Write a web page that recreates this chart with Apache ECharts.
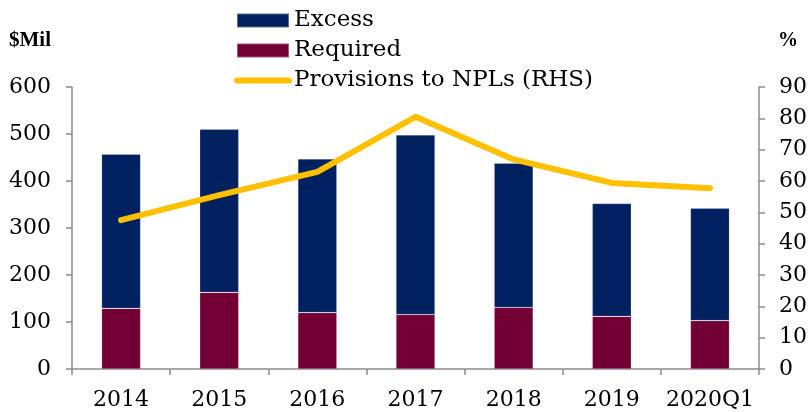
<!DOCTYPE html>
<html>
<head>
<meta charset="utf-8">
<script src="https://cdn.jsdelivr.net/npm/echarts@6/dist/echarts.min.js"></script>
<style>
html,body{margin:0;padding:0;background:#fff;}
#chart{width:811px;height:412px;}
</style>
</head>
<body>
<div id="chart"></div>
<script>
var categories = ['2014', '2015', '2016', '2017', '2018', '2019', '2020Q1'];
var required = [129, 163, 120, 116, 131, 112, 103];
var excess = [328, 347, 327, 382, 307, 240, 239];
var provisionsToNPLs = [47.5, 55.5, 62.9, 80.5, 66.9, 59.4, 57.7];
var leftTicks = {min: 0, max: 600, interval: 100};
var rightTicks = {min: 0, max: 90, interval: 10};

var NAVY = '#00205f';
var MAROON = '#720034';
var YELLOW = '#ffc000';
var AXIS = '#8c8c8c';
var FONT = 'DejaVu Serif';

var chart = echarts.init(document.getElementById('chart'), null, {renderer: 'canvas'});
chart.setOption({
  animation: false,
  backgroundColor: '#ffffff',
  textStyle: {fontFamily: FONT, color: '#000'},
  grid: {left: 72, right: 52, top: 87, bottom: 43, containLabel: false},
  legend: {
    orient: 'vertical',
    left: 234,
    top: 9,
    padding: 0,
    itemWidth: 52,
    itemHeight: 14,
    itemGap: 7,
    textStyle: {fontFamily: FONT, fontSize: 23, color: '#000', lineHeight: 22},
    data: [
      {name: 'Excess', icon: 'rect'},
      {name: 'Required', icon: 'rect'},
      {name: 'Provisions to NPLs (RHS)', itemStyle: {opacity: 0}, lineStyle: {width: 6, cap: 'round', color: YELLOW}}
    ]
  },
  graphic: [
    {type: 'text', left: 9, top: 30, style: {text: '$Mil', font: 'bold 21px "Liberation Serif"', fill: '#000'}},
    {type: 'text', left: 778, top: 31, style: {text: '%', font: 'bold 20px "Liberation Serif"', fill: '#000'}}
  ],
  xAxis: {
    type: 'category',
    data: categories,
    boundaryGap: true,
    axisLine: {lineStyle: {color: AXIS, width: 1.5}},
    axisTick: {show: true, alignWithLabel: false, length: 6, lineStyle: {color: AXIS, width: 1.5}},
    axisLabel: {color: '#000', fontFamily: FONT, fontSize: 22, margin: 20, interval: 0}
  },
  yAxis: [
    {
      type: 'value',
      min: leftTicks.min, max: leftTicks.max, interval: leftTicks.interval,
      position: 'left',
      splitLine: {show: false},
      axisLine: {show: true, lineStyle: {color: AXIS, width: 1.5}},
      axisTick: {show: true, length: 6, lineStyle: {color: AXIS, width: 1.5}},
      axisLabel: {color: '#000', fontFamily: FONT, fontSize: 22, margin: 21}
    },
    {
      type: 'value',
      min: rightTicks.min, max: rightTicks.max, interval: rightTicks.interval,
      position: 'right',
      splitLine: {show: false},
      axisLine: {show: true, lineStyle: {color: AXIS, width: 1.5}},
      axisTick: {show: true, length: 6, lineStyle: {color: AXIS, width: 1.5}},
      axisLabel: {color: '#000', fontFamily: FONT, fontSize: 22, margin: 20}
    }
  ],
  series: [
    {
      name: 'Required', type: 'bar', stack: 'total', yAxisIndex: 0,
      barWidth: 39, data: required,
      itemStyle: {color: MAROON, borderColor: 'rgba(255,255,255,0.35)', borderWidth: 0.6}
    },
    {
      name: 'Excess', type: 'bar', stack: 'total', yAxisIndex: 0,
      barWidth: 39, data: excess,
      itemStyle: {color: NAVY, borderColor: 'rgba(255,255,255,0.35)', borderWidth: 0.6}
    },
    {
      name: 'Provisions to NPLs (RHS)', type: 'line', yAxisIndex: 1,
      data: provisionsToNPLs, symbol: 'none', smooth: false,
      lineStyle: {color: YELLOW, width: 6, cap: 'round', join: 'round'},
      itemStyle: {color: YELLOW},
      z: 5
    }
  ]
});
</script>
</body>
</html>
